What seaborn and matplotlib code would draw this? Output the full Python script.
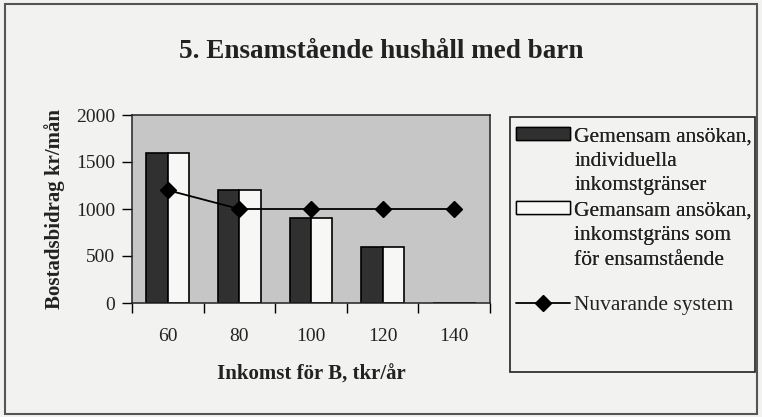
import numpy as np
import pandas as pd
import matplotlib
matplotlib.use("Agg")
import matplotlib.pyplot as plt
import seaborn as sns
from matplotlib.patches import Patch, Rectangle
from matplotlib.lines import Line2D

# ---- data ----
incomes = ["60", "80", "100", "120", "140"]
individual_limits = [1600, 1200, 900, 600, 0]
single_limit = [1600, 1200, 900, 600, 0]
current_system = [1200, 1000, 1000, 1000, 1000]
series_names = ["Gemensam ansökan, individuella inkomstgränser",
                "Gemansam ansökan, inkomstgräns som för ensamstående"]
legend_lines = [["Gemensam ansökan,", "individuella", "inkomstgränser"],
                ["Gemansam ansökan,", "inkomstgräns som", "för ensamstående"]]
line_label = "Nuvarande system"
title = "5. Ensamstående hushåll med barn"
ylabel = "Bostadsbidrag kr/mån"
xlabel = "Inkomst för B, tkr/år"
yticks = [0, 500, 1000, 1500, 2000]

sns.set_theme(style="white")
plt.rcParams["font.family"] = ["Liberation Serif", "DejaVu Serif"]

W, H = 762, 417
bg = "#f2f2f0"
ink = "#222222"
fig = plt.figure(figsize=(W / 100, H / 100), dpi=100, facecolor=bg)

# outer border
fig.patches.append(Rectangle((5 / W, 3 / H), 752 / W, 410 / H, transform=fig.transFigure,
                             fill=False, edgecolor="#555555", linewidth=1.5))

ax = fig.add_axes([132 / W, 1 - 303 / H, (490 - 132) / W, (303 - 115) / H])
ax.set_facecolor("#c6c6c6")

dark, light = "#303030", "#f7f7f5"
df = pd.DataFrame({
    "Inkomst": incomes * 2,
    "Bidrag": individual_limits + single_limit,
    "Serie": [series_names[0]] * len(incomes) + [series_names[1]] * len(incomes),
})
sns.barplot(data=df, x="Inkomst", y="Bidrag", hue="Serie", order=incomes,
            hue_order=series_names, palette={series_names[0]: dark, series_names[1]: light},
            width=0.6, saturation=1, edgecolor="black", linewidth=1.2, ax=ax, legend=False)
sns.pointplot(x=incomes, y=current_system, order=incomes, color="black", markers="D",
              markersize=8, linewidth=1.3, errorbar=None, ax=ax)

ax.set_xlim(-0.5, len(incomes) - 0.5)
ax.set_ylim(0, 2000)
ax.set_yticks(yticks)
ax.set_yticklabels([str(v) for v in yticks])
ax.set_xticks(range(len(incomes)))
ax.set_xticklabels(incomes)
ax.set_xticks(np.arange(-0.5, len(incomes)), minor=True)
ax.tick_params(axis="x", which="major", length=0, pad=18, labelsize=14, labelcolor=ink)
ax.tick_params(axis="x", which="minor", length=7, width=1, color="black", direction="out",
               bottom=True)
ax.tick_params(axis="y", which="major", length=7, width=1, color="black", direction="out",
               left=True, pad=5, labelsize=14, labelcolor=ink)
for s in ax.spines.values():
    s.set_color(ink)
    s.set_linewidth(1.1)
ax.grid(False)

ax.set_ylabel(ylabel, fontsize=15, fontweight="bold", labelpad=8, color=ink)
ax.set_xlabel(xlabel, fontsize=15, fontweight="bold", labelpad=14, color=ink)

fig.text(0.5, 1 - 52 / H, title, ha="center", va="center", fontsize=19.5,
         fontweight="bold", color=ink)

# legend frame
fig.patches.append(Rectangle((510 / W, 1 - 372 / H), 245 / W, 255 / H, transform=fig.transFigure,
                             facecolor=bg, edgecolor=ink, linewidth=1.2, zorder=1))
handles, labels = [], []
blank = Patch(facecolor="none", edgecolor="none")
bar_handles = [Patch(facecolor=dark, edgecolor="black", linewidth=1),
               Patch(facecolor=light, edgecolor="black", linewidth=1)]
for h, lines in zip(bar_handles, legend_lines):
    for i, line in enumerate(lines):
        handles.append(h if i == 0 else blank)
        labels.append(line)
common = dict(frameon=False, fontsize=15.5, handlelength=2.5, handleheight=0.55,
              handletextpad=0.2, labelspacing=0.26, borderpad=0, borderaxespad=0)
leg1 = fig.legend(handles, labels, loc="upper left", bbox_to_anchor=(516 / W, 1 - 127 / H),
                  **common)
line_handle = Line2D([], [], color="black", marker="D", markersize=8, linewidth=1.3)
leg2 = fig.legend([line_handle], [line_label], loc="center left",
                  bbox_to_anchor=(516 / W, 1 - 305 / H), **common)
fig.add_artist(leg1)
for lg in (leg1, leg2):
    for t in lg.get_texts():
        t.set_color(ink)

fig.savefig("out.png", dpi=100, facecolor=fig.get_facecolor())
